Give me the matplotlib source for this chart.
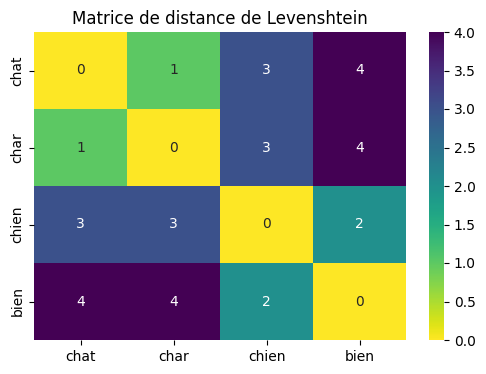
import numpy as np
import matplotlib
matplotlib.use("Agg")
import matplotlib.pyplot as plt
import seaborn as sns

words = ["chat", "char", "chien", "bien"]
distances = np.array([
    [0, 1, 3, 4],
    [1, 0, 3, 4],
    [3, 3, 0, 2],
    [4, 4, 2, 0],
])

W, H = 486, 374
fig = plt.figure(figsize=(W / 100, H / 100), dpi=100)
ax = fig.add_axes([34 / W, 1 - 340 / H, 372 / W, 308 / H])
cax = fig.add_axes([429 / W, 1 - 340 / H, 15 / W, 308 / H])
sns.heatmap(distances, annot=True, cmap="viridis_r", xticklabels=words,
            yticklabels=words, ax=ax, cbar_ax=cax)
ax.set_title("Matrice de distance de Levenshtein")

fig.savefig("out.png", dpi=100)
